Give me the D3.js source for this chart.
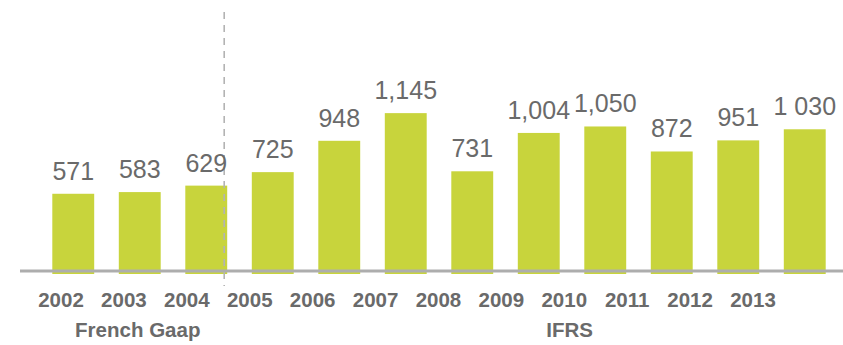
<!DOCTYPE html>
<html>
<head>
<meta charset="utf-8">
<script src="https://cdn.jsdelivr.net/npm/d3@7/dist/d3.min.js"></script>
<style>
  html, body { margin: 0; padding: 0; background: #fff; }
  svg { display: block; font-family: "Liberation Sans", Arial, sans-serif; }
</style>
</head>
<body>
<svg id="chart" width="843" height="345"></svg>
<script>
// ---- Data ----
const years = ["2002", "2003", "2004", "2005", "2006", "2007", "2008", "2009", "2010", "2011", "2012", "2013"];
const values = [571, 583, 629, 725, 948, 1145, 731, 1004, 1050, 872, 951, 1030];
const valueLabels = ["571", "583", "629", "725", "948", "1,145", "731", "1,004", "1,050", "872", "951", "1 030"];
const standards = ["French Gaap", "IFRS"];
const lastFrenchGaapYear = "2004";

// ---- Layout ----
const W = 843, H = 345;
const baseY = 274;          // bottom of the bars
const axisY = 271;          // grey baseline rule
const barColor = "#c8d43c";
const textColor = "#6a6a6a";

const svg = d3.select("#chart");

const x = d3.scaleBand()
  .domain(years)
  .range([40, 838])
  .paddingInner(0.37)
  .paddingOuter(0.185);

const y = d3.scaleLinear()
  .domain([0, 1200])
  .range([baseY, baseY - 168.6]);

// year captions sit on their own evenly spaced row
const xYear = d3.scalePoint()
  .domain(years)
  .range([61, 753]);

// ---- Bars ----
svg.append("g")
  .selectAll("rect")
  .data(values)
  .join("rect")
  .attr("x", (d, i) => x(years[i]))
  .attr("y", d => y(d))
  .attr("width", x.bandwidth())
  .attr("height", d => y(0) - y(d))
  .attr("fill", barColor);

// ---- Baseline ----
svg.append("line")
  .attr("x1", 20).attr("x2", W)
  .attr("y1", axisY).attr("y2", axisY)
  .attr("stroke", "#adadad")
  .attr("stroke-width", 3);

// ---- Divider between accounting standards ----
const dividerX = x(lastFrenchGaapYear) + x.bandwidth() - 3;
svg.append("line")
  .attr("x1", dividerX).attr("x2", dividerX)
  .attr("y1", 12).attr("y2", 286)
  .attr("stroke", "#b3b3b3")
  .attr("stroke-width", 1.6)
  .attr("stroke-dasharray", "7,6");

// ---- Value labels ----
svg.append("g")
  .selectAll("text")
  .data(values)
  .join("text")
  .attr("x", (d, i) => x(years[i]) + x.bandwidth() / 2)
  .attr("y", d => y(d) - 14)
  .attr("text-anchor", "middle")
  .attr("font-size", 25)
  .attr("fill", textColor)
  .text((d, i) => valueLabels[i]);

// ---- Year labels ----
svg.append("g")
  .selectAll("text")
  .data(years)
  .join("text")
  .attr("x", d => xYear(d))
  .attr("y", 307)
  .attr("text-anchor", "middle")
  .attr("font-size", 20.5)
  .attr("font-weight", "bold")
  .attr("fill", textColor)
  .text(d => d);

// ---- Standard labels ----
const groupX = [
  (x(years[0]) + x(lastFrenchGaapYear) + x.bandwidth()) / 2 - 2,
  (dividerX + W) / 2 + 36
];
svg.append("g")
  .selectAll("text")
  .data(standards)
  .join("text")
  .attr("x", (d, i) => groupX[i])
  .attr("y", 337)
  .attr("text-anchor", "middle")
  .attr("font-size", 20.5)
  .attr("font-weight", "bold")
  .attr("fill", textColor)
  .text(d => d);
</script>
</body>
</html>
